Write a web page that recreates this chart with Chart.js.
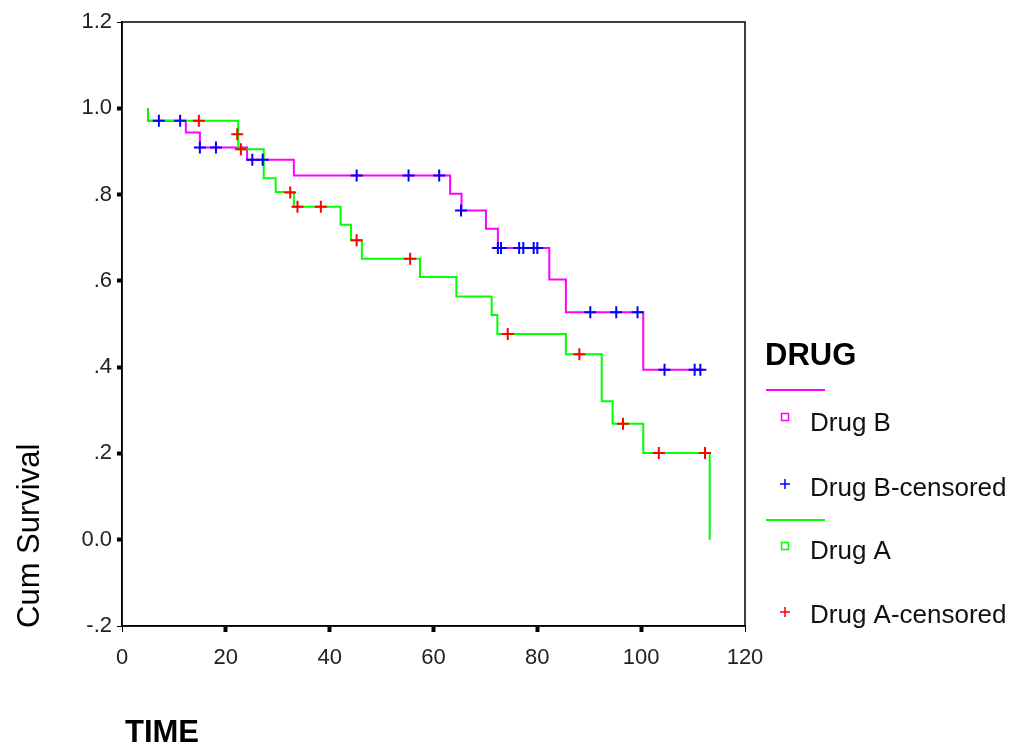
<!DOCTYPE html>
<html>
<head>
<meta charset="utf-8">
<script src="https://cdn.jsdelivr.net/npm/chart.js@4"></script>
<style>
  body { margin: 0; background: #fff; }
  canvas { display: block; }
</style>
</head>
<body>
<canvas id="kmChart" width="1012" height="744"></canvas>
<script>
// Kaplan-Meier steps (time, cum survival after the drop)
const timeB = [5, 5, 12.3, 15, 24.1, 33.1, 63.2, 65.4, 70.1, 72.4, 82.3, 85.5, 100.4, 111.9];
const survB = [1.0, 0.971, 0.944, 0.909, 0.881, 0.844, 0.802, 0.763, 0.721, 0.676, 0.603, 0.527, 0.394, 0.394];

const timeA = [5, 5, 22.4, 27.3, 29.6, 33.1, 42.1, 44.1, 46.2, 57.4, 64.4, 71.2, 72.3, 85.5, 92.4, 94.5, 100.4, 113.2];
const survA = [1.0, 0.971, 0.905, 0.838, 0.806, 0.772, 0.730, 0.694, 0.651, 0.609, 0.564, 0.521, 0.477, 0.430, 0.321, 0.269, 0.201, 0.0];

// censored cases
const censTimeB = [7.1, 11.2, 15.0, 18.1, 25.1, 27.1, 45.2, 55.2, 61.1, 65.3, 72.4, 73.0, 76.5, 77.3, 79.3, 80.0, 90.2, 95.2, 99.3, 104.5, 110.3, 111.4];
const censSurvB = [0.971, 0.971, 0.909, 0.909, 0.881, 0.881, 0.844, 0.844, 0.844, 0.763, 0.676, 0.676, 0.676, 0.676, 0.676, 0.676, 0.527, 0.527, 0.527, 0.394, 0.394, 0.394];

const censTimeA = [14.8, 22.2, 22.9, 32.4, 33.8, 38.3, 45.2, 55.5, 74.3, 88.1, 96.5, 103.4, 112.3];
const censSurvA = [0.971, 0.940, 0.905, 0.805, 0.772, 0.772, 0.694, 0.651, 0.477, 0.430, 0.269, 0.201, 0.201];

const FONT = "'Liberation Sans', Arial, sans-serif";

function pts(xs, ys) {
  return xs.map((x, i) => ({x: x, y: ys[i]}));
}

function fmtY(v) {
  const r = Math.round(v * 10) / 10;
  if (r === 0) return '0.0';
  if (r === 1) return '1.0';
  let s = r.toFixed(1);
  if (Math.abs(r) < 1) s = s.replace('0.', '.');
  return s;
}

// thin ticks at the ends, thick marks in between
function tickW(ctx) {
  const n = ctx.scale.ticks.length;
  return (ctx.index === 0 || ctx.index === n - 1) ? 1 : 4;
}

const decor = {
  id: 'decor',
  afterDraw(chart) {
    const ctx = chart.ctx;
    const a = chart.chartArea;
    ctx.save();
    // frame
    ctx.strokeStyle = '#000';
    ctx.lineWidth = 1.5;
    ctx.strokeRect(a.left, a.top, a.right - a.left, a.bottom - a.top);

    // axis titles
    ctx.fillStyle = '#000';
    ctx.font = 'bold 31px ' + FONT;
    ctx.textBaseline = 'alphabetic';
    ctx.textAlign = 'left';
    ctx.fillText('TIME', 125, 742);

    ctx.save();
    ctx.translate(30, 628);
    ctx.rotate(-Math.PI / 2);
    ctx.font = '31px ' + FONT;
    ctx.textBaseline = 'middle';
    ctx.fillText('Cum Survival', 0, 0);
    ctx.restore();

    // legend
    ctx.font = 'bold 31px ' + FONT;
    ctx.fillText('DRUG', 765, 365);

    ctx.lineWidth = 2;
    ctx.strokeStyle = '#ff00ff';
    ctx.beginPath(); ctx.moveTo(766, 390); ctx.lineTo(825, 390); ctx.stroke();
    ctx.lineWidth = 1.5;
    ctx.strokeRect(781.5, 413.5, 7, 7);

    ctx.strokeStyle = '#0000ff';
    ctx.beginPath();
    ctx.moveTo(780, 484); ctx.lineTo(790, 484);
    ctx.moveTo(785, 479); ctx.lineTo(785, 489);
    ctx.stroke();

    ctx.lineWidth = 2;
    ctx.strokeStyle = '#00ff00';
    ctx.beginPath(); ctx.moveTo(766, 520); ctx.lineTo(825, 520); ctx.stroke();
    ctx.lineWidth = 1.5;
    ctx.strokeRect(781.5, 542.5, 7, 7);

    ctx.strokeStyle = '#ff0000';
    ctx.beginPath();
    ctx.moveTo(780, 612); ctx.lineTo(790, 612);
    ctx.moveTo(785, 607); ctx.lineTo(785, 617);
    ctx.stroke();

    ctx.fillStyle = '#111';
    ctx.font = '26px ' + FONT;
    ctx.fillText('Drug B', 810, 431);
    ctx.fillText('Drug B-censored', 810, 496);
    ctx.fillText('Drug A', 810, 559);
    ctx.fillText('Drug A-censored', 810, 623);
    ctx.restore();
  }
};

new Chart(document.getElementById('kmChart'), {
  type: 'line',
  data: {
    datasets: [
      {
        label: 'Drug A-censored',
        data: pts(censTimeA, censSurvA),
        showLine: false,
        pointStyle: 'cross',
        pointRadius: 6,
        pointBorderWidth: 2,
        pointBorderColor: '#ff0000',
        order: 0
      },
      {
        label: 'Drug B-censored',
        data: pts(censTimeB, censSurvB),
        showLine: false,
        pointStyle: 'cross',
        pointRadius: 6,
        pointBorderWidth: 2,
        pointBorderColor: '#0000ff',
        order: 1
      },
      {
        label: 'Drug A',
        data: pts(timeA, survA),
        stepped: 'before',
        borderColor: '#00ff00',
        borderWidth: 2,
        pointRadius: 0,
        fill: false,
        order: 2
      },
      {
        label: 'Drug B',
        data: pts(timeB, survB),
        stepped: 'before',
        borderColor: '#ff00ff',
        borderWidth: 2,
        pointRadius: 0,
        fill: false,
        order: 3
      }
    ]
  },
  options: {
    responsive: false,
    animation: false,
    layout: { padding: { top: 22, right: 267, left: 0, bottom: 0 } },
    plugins: { legend: { display: false }, tooltip: { enabled: false } },
    scales: {
      x: {
        type: 'linear',
        min: 0, max: 120,
        afterFit(s) { s.height = 118; },
        ticks: { stepSize: 20, color: '#222', font: { family: FONT, size: 22 }, padding: 13, maxRotation: 0 },
        grid: { drawOnChartArea: false, tickLength: 6, tickColor: '#000', tickWidth: tickW },
        border: { color: '#000', width: 1.5 }
      },
      y: {
        min: -0.2, max: 1.2,
        afterFit(s) { s.width = 122; },
        ticks: { stepSize: 0.2, color: '#222', font: { family: FONT, size: 22 }, padding: 5, callback: v => fmtY(v) },
        grid: { drawOnChartArea: false, tickLength: 5, tickColor: '#000', tickWidth: tickW },
        border: { color: '#000', width: 1.5 }
      }
    }
  },
  plugins: [decor]
});
</script>
</body>
</html>
